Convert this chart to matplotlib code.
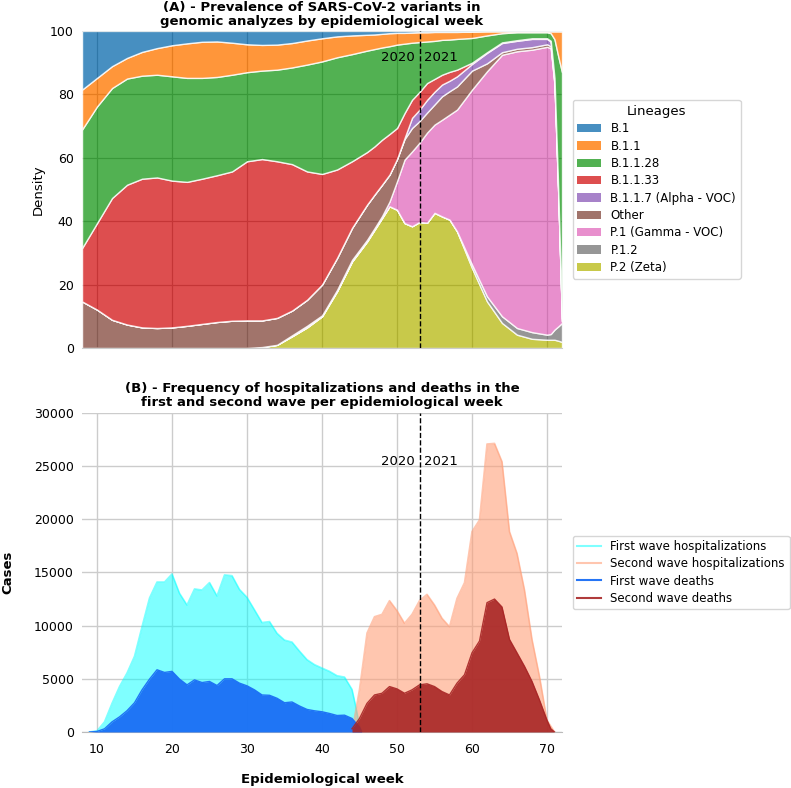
import numpy as np
import matplotlib
matplotlib.use("Agg")
import matplotlib.pyplot as plt
from matplotlib.patches import Patch
from matplotlib.lines import Line2D

# ---------------- Panel A data (percent of genomes per lineage) ----------------
weeks_a = [8, 10, 12, 14, 16, 18, 20, 22, 24, 26, 28, 30, 32, 34, 36, 38, 40, 42, 44, 46,
           47, 48, 49, 50, 51, 52, 53, 54, 55, 56, 57, 58,
           60, 62, 64, 66, 68, 70, 70.5, 71, 71.5, 72]

p2 = [0, 0, 0, 0, 0, 0, 0, 0, 0, 0, 0, 0, 0.3, 1.0, 3.7, 6.5, 10.0, 17.9, 27.3, 33.6,
      37.3, 41.0, 44.7, 43.6, 39.4, 38.4, 39.7, 39.4, 42.3, 41.5, 40.5, 36.8,
      25.2, 14.7, 7.9, 4.2, 2.9, 2.6, 2.6, 2.6, 2.3, 1.9]
p12 = [0] * 32 + [1.1, 1.6, 2.1, 2.1, 2.1, 1.6, 1.8, 3.2, 4.5, 6.0]
p1 = [0] * 14 + [0.3, 0.5, 0.3, 0.4, 0.5, 0.5,
                 0.5, 0.6, 1.5, 9.0, 20.0, 23.6, 25.0, 28.4, 27.6, 30.5, 33.1, 38.4,
                 55.2, 71.0, 82.5, 87.3, 89.1, 90.8, 90.2, 77.3, 41.6, 0.5]
other = [14.7, 12.1, 8.9, 7.4, 6.5, 6.3, 6.5, 7.0, 7.6, 8.2, 8.6, 8.7, 8.4, 8.5, 7.8, 8.2, 9.7, 10.1, 10.1, 11.1,
         10.6, 9.9, 8.5, 7.0, 6.5, 7.4, 6.8, 6.3, 6.3, 7.4, 7.4, 7.3,
         6.0, 2.5, 0.8, 0.8, 0.8, 0.8, 0.6, 0.4, 0.2, 0.1]
b117 = [0] * 24 + [0.3, 3.2, 3.6, 4.0, 4.0, 3.7, 3.3, 3.2,
                   2.1, 3.3, 2.9, 2.5, 2.6, 1.7, 1.5, 1.5, 1.2, 0.6]
b1133 = [16.8, 27.3, 38.4, 44.1, 46.9, 47.5, 46.3, 45.4, 45.8, 46.3, 47.1, 50.2, 50.9, 49.4, 46.2, 40.5, 34.9, 27.9, 21.0, 16.6,
         15.2, 14.2, 12.8, 9.8, 7.9, 5.7, 5.6, 5.3, 4.0, 3.1, 2.8, 2.1,
         0.4, 0.2, 0.2, 0.2, 0.2, 0.2, 0.2, 0.2, 0.2, 0.2]
b1128 = [37.4, 36.8, 34.7, 33.5, 32.5, 32.4, 32.9, 32.8, 31.8, 31.0, 30.5, 28.1, 27.9, 28.9, 30.5, 33.7, 35.5, 35.4, 33.8, 32.0,
         30.7, 29.1, 27.7, 26.3, 21.9, 18.0, 15.7, 13.1, 11.9, 11.0, 10.2, 9.7,
         7.8, 5.3, 2.9, 2.5, 1.9, 1.9, 2.4, 12.2, 42.0, 77.7]
b11 = [12.6, 9.0, 6.9, 6.5, 7.5, 8.4, 9.8, 10.9, 11.4, 11.2, 10.1, 8.8, 8.1, 7.9, 7.7, 7.6, 7.3, 6.6, 5.9, 5.0,
       4.6, 4.3, 4.1, 3.7, 3.4, 3.2, 3.1, 2.9, 2.8, 2.5, 2.4, 2.2,
       2.0, 1.3, 0.6, 0.3, 0.3, 0.3, 0.6, 2.5, 7.9, 12.9]
b1 = [18.5, 14.8, 11.1, 8.5, 6.6, 5.4, 4.5, 3.9, 3.4, 3.3, 3.7, 4.2, 4.4, 4.3, 3.8, 3.0, 2.3, 1.7, 1.4, 1.2,
      1.1, 0.9, 0.7, 0.6, 0.6, 0.5, 0.4, 0.4, 0.3, 0.3, 0.3, 0.3,
      0.2, 0.1, 0.1, 0.1, 0.1, 0.1, 0.1, 0.1, 0.1, 0.1]

lineages = ["B.1", "B.1.1", "B.1.1.28", "B.1.1.33", "B.1.1.7 (Alpha - VOC)",
            "Other", "P.1 (Gamma - VOC)", "P.1.2", "P.2 (Zeta)"]
lineage_colors = ["#1f77b4", "#ff7f0e", "#2ca02c", "#d62728", "#9467bd",
                  "#8c564b", "#e377c2", "#7f7f7f", "#bcbd22"]

# ---------------- Panel B data (cases per epidemiological week) ----------------
hosp1_weeks = [9, 10, 11, 12, 13, 14, 15, 16, 17, 18, 19, 20, 21, 22, 23, 24, 25, 26, 27, 28,
               29, 30, 31, 32, 33, 34, 35, 36, 37, 38, 39, 40, 41, 42, 43, 44, 44.5, 45, 45.3]
hosp1 = [0, 100, 950, 2690, 4270, 5540, 7120, 9900, 12600, 14100, 14100, 14860, 13040, 11940, 13450, 13350, 14050, 12790, 14770, 14700,
         13400, 12660, 11480, 10290, 10380, 9280, 8640, 8450, 7600, 6800, 6330, 6010, 5700, 5290, 5160, 4000, 2400, 600, 0]

hosp2_weeks = [44, 45, 46, 47, 48, 49, 50, 51, 52, 53, 54, 55, 56, 57, 58, 59, 60, 61, 62, 63,
               64, 65, 66, 67, 68, 69, 70, 71]
hosp2 = [0, 4000, 9300, 10840, 11060, 12350, 11410, 10220, 11060, 12350, 12940, 11940, 10690, 9900, 12560, 14040, 18840, 19940, 27080, 27140,
         25420, 18840, 16800, 13350, 8700, 5220, 1100, 0]

death1_weeks = [9, 10, 11, 12, 13, 14, 15, 16, 17, 18, 19, 20, 21, 22, 23, 24, 25, 26, 27, 28,
                29, 30, 31, 32, 33, 34, 35, 36, 37, 38, 39, 40, 41, 42, 43, 44, 45, 45.3]
death1 = [0, 50, 300, 950, 1420, 2000, 2750, 3960, 4970, 5850, 5600, 5700, 4970, 4430, 4900, 4650, 4750, 4370, 5000, 5000,
          4590, 4340, 3960, 3480, 3450, 3170, 2750, 2820, 2440, 2120, 1990, 1900, 1740, 1550, 1580, 1270, 450, 0]

death2_weeks = [44, 45, 46, 47, 48, 49, 50, 51, 52, 53, 54, 55, 56, 57, 58, 59, 60, 61, 62, 63,
                64, 65, 66, 67, 68, 69, 70, 70.5, 71]
death2 = [300, 1270, 2690, 3480, 3640, 4270, 4050, 3640, 3960, 4430, 4530, 4270, 3800, 3480, 4590, 5380, 7440, 8550, 12160, 12500,
          11750, 8700, 7440, 6170, 4750, 3000, 1100, 300, 0]

year_split = 53

# ---------------- Figure ----------------
plt.rcParams["font.family"] = ["DejaVu Sans"]
fig = plt.figure(figsize=(7.91, 7.88), dpi=100)
axA = fig.add_axes([0.1037, 0.5584, 0.6068, 0.4023])
axB = fig.add_axes([0.1037, 0.0711, 0.6068, 0.4048])

# ---- Panel A ----
stack = np.array([p2, p12, p1, other, b117, b1133, b1128, b11, b1], dtype=float)
stack = stack / stack.sum(axis=0) * 100
stack_colors = lineage_colors[::-1]
axA.set_axisbelow(True)
axA.grid(True, color="#777777", linewidth=0.9)
axA.stackplot(weeks_a, stack, colors=stack_colors, alpha=0.82,
              edgecolor="white", linewidth=1.0, zorder=2)
axA.set_xlim(8, 72)
axA.set_ylim(0, 100)
axA.set_xticks(range(10, 71, 10))
axA.set_xticklabels([])
axA.set_yticks(range(0, 101, 20))
axA.tick_params(axis="both", length=0, labelsize=9, pad=6)
axA.set_ylabel("Density", fontsize=9.5)
for s in ["top", "right", "left"]:
    axA.spines[s].set_visible(False)
axA.spines["bottom"].set_color("#cccccc")
axA.set_title("(A) - Prevalence of SARS-CoV-2 variants in\ngenomic analyzes by epidemiological week",
              fontsize=9.5, fontweight="bold", pad=4, linespacing=1.15)
axA.axvline(year_split, color="black", linestyle="--", linewidth=1, zorder=5)
axA.text(year_split - 0.6, 91.5, "2020", ha="right", va="center", fontsize=9.5, zorder=6)
axA.text(year_split + 0.6, 91.5, "2021", ha="left", va="center", fontsize=9.5, zorder=6)
handlesA = [Patch(facecolor=c, alpha=0.82, edgecolor="none") for c in lineage_colors]
axA.legend(handlesA, lineages, title="Lineages", loc="center left",
           bbox_to_anchor=(1.01, 0.5), fontsize=8.5, title_fontsize=9.5,
           labelspacing=0.37, frameon=True, edgecolor="#cccccc", fancybox=True)

# ---- Panel B ----
axB.set_axisbelow(True)
axB.grid(True, color="#cccccc", linewidth=1.0)
c_h1 = "#00ffff"
c_h2 = "#ffa07a"
c_d1 = "#1a6ef5"
c_d2 = "#a82525"
axB.fill_between(hosp1_weeks, hosp1, color=c_h1, alpha=0.5, linewidth=0, zorder=2)
axB.plot(hosp1_weeks, hosp1, color=c_h1, alpha=0.5, linewidth=1.2, zorder=2)
axB.fill_between(hosp2_weeks, hosp2, color=c_h2, alpha=0.6, linewidth=0, zorder=2)
axB.plot(hosp2_weeks, hosp2, color=c_h2, alpha=0.6, linewidth=1.2, zorder=2)
axB.fill_between(death1_weeks, death1, color=c_d1, alpha=0.95, linewidth=0, zorder=3)
axB.plot(death1_weeks, death1, color=c_d1, alpha=0.95, linewidth=1.0, zorder=3)
axB.fill_between(death2_weeks, death2, color=c_d2, alpha=0.9, linewidth=0, zorder=3)
axB.plot(death2_weeks, death2, color=c_d2, alpha=0.9, linewidth=1.0, zorder=3)
axB.set_xlim(8, 72)
axB.set_ylim(0, 30000)
axB.set_xticks(range(10, 71, 10))
axB.set_yticks(range(0, 30001, 5000))
axB.tick_params(axis="both", length=0, labelsize=9, pad=6)
axB.tick_params(axis="x", pad=8)
for s in ["top", "right", "left"]:
    axB.spines[s].set_visible(False)
axB.spines["bottom"].set_color("#bbbbbb")
axB.set_ylabel("Cases", fontsize=9.5, fontweight="bold", labelpad=14)
axB.set_xlabel("Epidemiological week", fontsize=9.5, fontweight="bold", labelpad=12)
axB.set_title("(B) - Frequency of hospitalizations and deaths in the\nfirst and second wave per epidemiological week",
              fontsize=9.5, fontweight="bold", pad=5, linespacing=1.1)
axB.axvline(year_split, color="black", linestyle="--", linewidth=1, zorder=5)
axB.text(year_split - 0.6, 25400, "2020", ha="right", va="center", fontsize=9.5, zorder=6)
axB.text(year_split + 0.6, 25400, "2021", ha="left", va="center", fontsize=9.5, zorder=6)
handlesB = [Line2D([0], [0], color=c_h1, alpha=0.5, lw=1.5),
            Line2D([0], [0], color=c_h2, alpha=0.6, lw=1.5),
            Line2D([0], [0], color=c_d1, alpha=0.95, lw=1.5),
            Line2D([0], [0], color=c_d2, alpha=0.9, lw=1.5)]
labelsB = ["First wave hospitalizations", "Second wave hospitalizations",
           "First wave deaths", "Second wave deaths"]
axB.legend(handlesB, labelsB, loc="center left", bbox_to_anchor=(1.01, 0.5),
           fontsize=8.5, labelspacing=0.35, frameon=True, edgecolor="#cccccc", fancybox=True)

fig.savefig("out.png", dpi=100)
